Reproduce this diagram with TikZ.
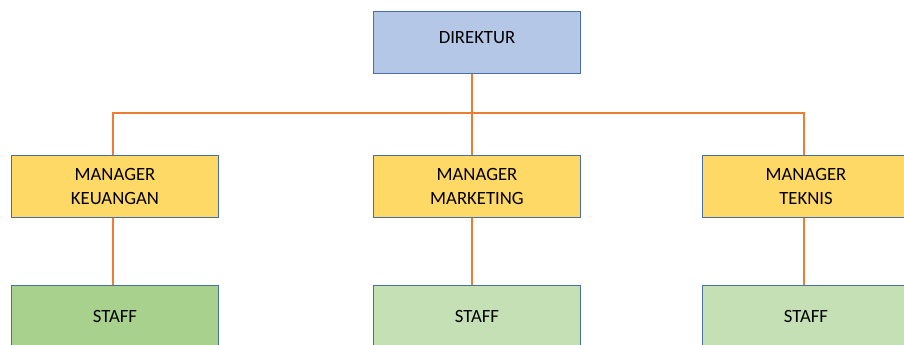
\documentclass[tikz,border=0pt]{standalone}
\usepackage{fontspec}
\setmainfont{Carlito}
\usetikzlibrary{positioning, calc}
\definecolor{dirfill}{HTML}{B4C7E7}
\definecolor{mgrfill}{HTML}{FFD966}
\definecolor{stafffill}{HTML}{C5E0B4}
\definecolor{staffdark}{HTML}{A9D18E}
\definecolor{boxline}{HTML}{4A6EA8}
\definecolor{linkline}{HTML}{ED7D31}
\tikzset{
  orgnode/.style={
    rectangle, draw=boxline, line width=0.6pt, minimum width=5.17cm, minimum height=1.57cm,
    align=center, font=\fontsize{13.3}{17.7}\selectfont, inner sep=0pt
  },
  boss/.style={orgnode, fill=dirfill, text depth=0.25cm},
  manager/.style={orgnode, fill=mgrfill},
  staff/.style={orgnode, fill=stafffill},
  link/.style={draw=linkline, line width=1.4pt}
}

\begin{document}
\begin{tikzpicture}[x=0.025cm, y=-0.025cm]
    \useasboundingbox (0,0) rectangle (904,344);
    \clip (0,0) rectangle (904,344);
    \coordinate (bus) at (0,113);
    % pimpinan
    \node[boss] (dir) at (477,42.5) {DIREKTUR};
    % manajer
    \node[manager] (mk) at (115,186.5) {MANAGER\\KEUANGAN};
    \node[manager] (mm) at (477,186.5) {MANAGER\\MARKETING};
    \node[manager] (mt) at (806,186.5) {MANAGER\\TEKNIS};
    % staf
    \node[staff, fill=staffdark] (sk) at (115,316.5) {STAFF};
    \node[staff] (sm) at (477,316.5) {STAFF};
    \node[staff] (st) at (806,316.5) {STAFF};
    % titik sambung
    \coordinate (mk-top) at ([xshift=-0.05cm]mk.north);
    \coordinate (mt-top) at ([xshift=-0.05cm]mt.north);
    % garis
    \draw[link] ([xshift=-0.125cm]dir.south) -- ([xshift=-0.125cm]mm.north);
    \draw[link] (mk-top) -- (mk-top |- bus) -- (mt-top |- bus) -- (mt-top);
    \draw[link] ([xshift=-0.05cm]mk.south) -- ([xshift=-0.05cm]sk.north);
    \draw[link] ([xshift=-0.125cm]mm.south) -- ([xshift=-0.125cm]sm.north);
    \draw[link] ([xshift=-0.05cm]mt.south) -- ([xshift=-0.05cm]st.north);
\end{tikzpicture}
\end{document}
